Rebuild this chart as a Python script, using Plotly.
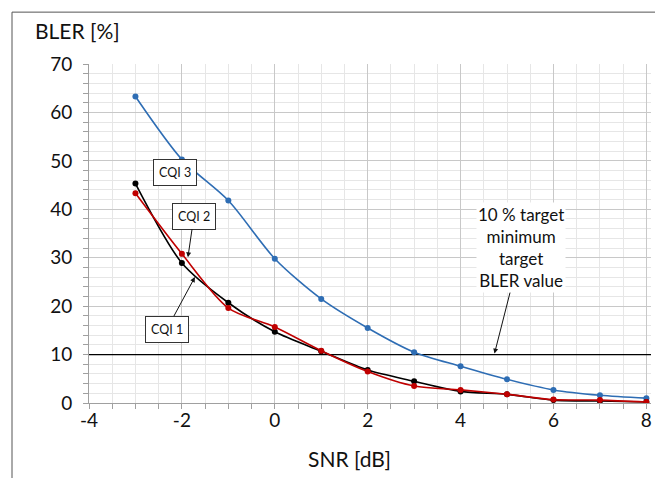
import plotly.graph_objects as go

snr = [-3, -2, -1, 0, 1, 2, 3, 4, 5, 6, 7, 8]
cqi3 = [63.3, 50.3, 41.8, 29.8, 21.5, 15.5, 10.5, 7.6, 4.9, 2.7, 1.6, 1.0]
cqi1 = [45.3, 28.9, 20.7, 14.7, 10.7, 6.8, 4.5, 2.4, 1.8, 0.6, 0.4, 0.2]
cqi2 = [43.3, 30.8, 19.6, 15.7, 10.8, 6.5, 3.5, 2.7, 1.8, 0.7, 0.6, 0.2]
target = 10
x_tickvals = [-4, -2, 0, 2, 4, 6, 8]
x_ticktext = ["-4", "-2", "0", "2", "4", "6", "8"]
y_tickvals = [0, 10, 20, 30, 40, 50, 60, 70]
y_ticktext = ["0", "10", "20", "30", "40", "50", "60", "70"]

FONT = "Lato, 'Open Sans', sans-serif"
BLUE = "#2E6DB4"
RED = "#C00000"
BLACK = "#000000"

fig = go.Figure()

# target line
fig.add_trace(go.Scatter(x=[-4, 8.1], y=[target, target], mode="lines",
                         line=dict(color=BLACK, width=1.2), showlegend=False,
                         hoverinfo="skip"))

for ys, col in [(cqi3, BLUE), (cqi1, BLACK), (cqi2, RED)]:
    fig.add_trace(go.Scatter(
        x=snr, y=ys, mode="lines+markers",
        line=dict(color=col, width=1.6, shape="spline", smoothing=0.8),
        marker=dict(color=col, size=6),
        showlegend=False))

fig.update_xaxes(
    range=[-4, 8.1], tickvals=x_tickvals, ticktext=x_ticktext, automargin=False,
    showgrid=True, gridcolor="#c8c8c8", gridwidth=1,
    zeroline=False, showline=True, linecolor="#a0a0a0", linewidth=1,
    ticks="", tickfont=dict(family=FONT, size=19, color="#111"),
    minor=dict(tick0=-4, dtick=0.5, showgrid=True, gridcolor="#e6e6e6", ticks="outside",
               ticklen=5, tickcolor="#a0a0a0"),
)
fig.update_yaxes(
    range=[0, 70], tickvals=y_tickvals, ticktext=y_ticktext, automargin=False,
    showgrid=True, gridcolor="#c8c8c8", gridwidth=1,
    zeroline=False, showline=True, linecolor="#a0a0a0", linewidth=1,
    ticks="", tickfont=dict(family=FONT, size=19, color="#111"),
    minor=dict(tick0=0, dtick=2, showgrid=True, gridcolor="#e6e6e6", ticks="outside",
               ticklen=5, tickcolor="#a0a0a0"),
    ticklabelstandoff=12,
)

box = dict(bordercolor="#333", borderwidth=1, bgcolor="white", borderpad=5,
           font=dict(family=FONT, size=12.5, color="#111"))

fig.add_annotation(x=-2.15, y=47.5, text="CQI 3", showarrow=False, **box)
fig.add_annotation(x=-1.87, y=30.1, text="CQI 2", showarrow=True, ax=6, ay=-41,
                   arrowhead=2, arrowsize=1, arrowwidth=1, arrowcolor="#111", **box)
fig.add_annotation(x=-1.72, y=26.0, text="CQI 1", showarrow=True, ax=-28, ay=52,
                   arrowhead=2, arrowsize=1, arrowwidth=1, arrowcolor="#111", **box)
fig.add_annotation(x=4.73, y=10.2,
                   text="10 % target<br>minimum<br>target<br>BLER value",
                   showarrow=True, ax=27, ay=-106, arrowhead=2, arrowsize=1,
                   arrowwidth=1, arrowcolor="#111", bgcolor="white",
                   font=dict(family=FONT, size=17, color="#111"))

fig.add_annotation(xref="paper", yref="paper", x=-0.1, y=1.10, xanchor="left",
                   yanchor="middle", text="BLER [%]", showarrow=False,
                   font=dict(family=FONT, size=21, color="#111"))
fig.add_annotation(xref="paper", yref="paper", x=0.464, y=-0.165, xanchor="center",
                   yanchor="middle", text="SNR [dB]", showarrow=False,
                   font=dict(family=FONT, size=21, color="#111"))

# outer frame (left and top visible)
fig.add_shape(type="rect", xref="paper", yref="paper", x0=-0.137, x1=1.1,
              y0=-0.5, y1=1.153, line=dict(color="#555", width=1))

fig.update_layout(
    width=655, height=470,
    margin=dict(l=81, r=12, t=56, b=75),
    plot_bgcolor="white", paper_bgcolor="white",
)

fig.write_html("out.html")
